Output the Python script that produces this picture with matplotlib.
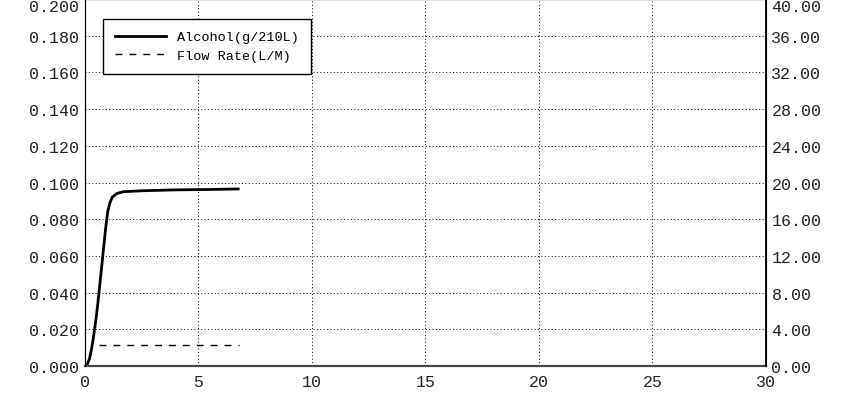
import matplotlib
matplotlib.use('Agg')
import matplotlib.pyplot as plt
from matplotlib.ticker import FormatStrFormatter

# breath test trace
time_s = [0.0, 0.1, 0.2, 0.3, 0.4, 0.5, 0.6, 0.7, 0.8, 0.9, 1.0, 1.1,
          1.2, 1.4, 1.7, 2.5, 4.0, 5.5, 6.75]
alcohol = [0.0, 0.001, 0.004, 0.010, 0.018, 0.027, 0.038, 0.050, 0.062,
           0.074, 0.084, 0.089, 0.092, 0.094, 0.095, 0.0955, 0.096,
           0.0962, 0.0965]

flow_time = [0.6, 2.0, 4.0, 6.8]
flow_rate = [2.25, 2.25, 2.25, 2.25]

xticks = [0, 5, 10, 15, 20, 25, 30]
left_ticks = [0.0, 0.02, 0.04, 0.06, 0.08, 0.10, 0.12, 0.14, 0.16, 0.18, 0.20]
right_ticks = [0, 4, 8, 12, 16, 20, 24, 28, 32, 36, 40]

plt.rcParams['font.family'] = ['Liberation Mono', 'DejaVu Sans Mono']

fig = plt.figure(figsize=(8.5, 4.06), dpi=100)
ax = fig.add_axes([0.1, 0.096, 0.801, 0.904])
ax2 = ax.twinx()

l1, = ax.plot(time_s, alcohol, color='black', lw=2.0,
              label='Alcohol(g/210L)')
l2, = ax2.plot(flow_time, flow_rate, color='black', lw=1.0,
               dashes=(5, 5), label='Flow Rate(L/M)')

ax.set_xlim(0, 30)
ax.set_ylim(0, 0.2)
ax2.set_ylim(0, 40)
ax.set_xticks(xticks)
ax.set_yticks(left_ticks)
ax2.set_yticks(right_ticks)
ax.yaxis.set_major_formatter(FormatStrFormatter('%.3f'))
ax2.yaxis.set_major_formatter(FormatStrFormatter('%.2f'))

ax.grid(True, color='black', lw=0.7, ls=(0, (1, 2.5)))

for a in (ax, ax2):
    a.tick_params(length=0, labelsize=12, colors='#222222', pad=4)
    for s in a.spines.values():
        s.set_color('black')
        s.set_linewidth(0.8)
    # top labels sit at the very edge; keep them inside the figure
    a.get_yticklabels()[-1].set_verticalalignment('top')
ax.spines['bottom'].set_linewidth(1.6)
ax.spines['bottom'].set_color('#444444')
ax2.spines['bottom'].set_visible(False)
ax2.spines['right'].set_linewidth(1.3)
ax.tick_params(axis='x', pad=6)

leg = ax2.legend(handles=[l1, l2], loc='upper left',
                 bbox_to_anchor=(0.026, 0.946), borderaxespad=0,
                 fontsize=9.7, handlelength=3.8, handletextpad=0.8,
                 fancybox=False, framealpha=1, edgecolor='black',
                 borderpad=0.9, labelspacing=0.45)
leg.get_frame().set_linewidth(1.0)

plt.savefig('out.png', dpi=100)
